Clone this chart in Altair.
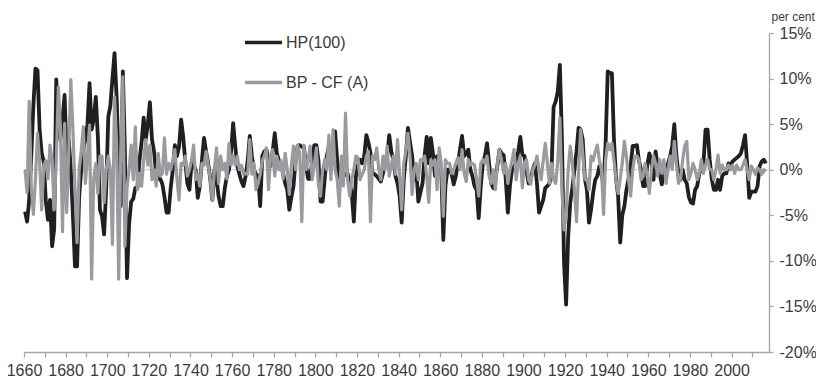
import altair as alt
import pandas as pd

# ---------------- data (per cent) ----------------
years = list(range(1660, 2017))

hp_values = [
    -4.6, -5.7, -3.3, 1.5, 7.0, 11.1, 10.9, 4.4, 1.8, 0.9,        # 1660s
    -3.5, -5.5, -3.3, -8.4, -6.5, 9.9, 5.0, 3.3, 5.5, 8.2,        # 1670s
    1.5, 3.3, 0.0, -5.0, -10.6, -10.6, -3.0, 0.0, 2.2, 3.3,       # 1680s
    5.0, 9.5, 4.4, 5.5, 8.0, 3.6, -4.4, -5.1, -7.1, -2.0,         # 1690s
    5.8, 7.0, 10.0, 12.8, 8.0, 1.0, -4.0, 10.8, 2.0, -11.9,       # 1700s
    -6.0, -3.5, -3.2, -2.0, -2.0, 1.0, 3.0, 5.7, 3.3, 5.0,        # 1710s
    7.4, 3.3, 2.0, -0.4, -1.0, -1.0, -1.6, -3.0, -4.7, -4.7,      # 1720s
    -2.0, 0.0, 2.7, 1.5, 2.5, 5.5, 3.6, 0.9, -1.5, -2.2,          # 1730s
    0.7, 0.5, 0.0, -3.1, -1.8, 1.0, 3.5, 2.0, 0.7, -1.0,          # 1740s
    -3.3, 0.0, -1.0, -2.9, -4.0, -4.0, -2.0, -0.7, 0.0, 2.0,      # 1750s
    5.1, 2.6, 0.4, -0.5, -1.3, -1.8, -0.7, 1.0, 3.7, 1.5,         # 1760s
    0.0, -0.5, -0.7, -4.0, 1.5, 2.0, 2.2, 1.0, 0.4, 2.0,          # 1770s
    4.0, 1.8, 1.0, 0.7, -0.4, -1.5, -2.2, -4.4, -3.0, -1.8,       # 1780s
    1.0, 2.6, 2.7, 2.5, 2.5, 0.5, -1.0, -1.0, 1.0, 2.7,           # 1790s
    2.7, 1.0, -3.5, -3.5, -1.0, 1.5, 2.5, 0.7, 2.5, 4.2,          # 1800s
    1.0, -1.1, 0.5, -0.7, -0.5, -0.4, -1.5, -2.6, -5.7, -0.7,     # 1810s
    0.5, 1.1, 0.7, 1.5, 3.8, 3.0, 1.8, -0.4, -0.5, -0.7,          # 1820s
    -1.0, -1.3, -0.4, 0.5, 1.5, 3.8, 2.0, 1.1, -0.7, -1.5,        # 1830s
    -2.9, -5.8, -1.0, 1.5, 4.6, 3.0, 1.5, -1.1, 0.0, -3.5,        # 1840s
    -2.5, -1.5, 1.5, 3.6, 0.7, 3.5, 1.8, -0.7, 1.5, 0.5,          # 1850s
    0.0, -7.7, -1.8, 0.0, 0.0, -0.5, -1.6, -0.7, 0.7, 2.2,        # 1860s
    3.7, 1.5, 1.8, 2.2, 0.0, -0.7, -1.8, -2.2, -5.3, -1.8,        # 1870s
    0.7, 1.5, 2.9, 0.7, -1.5, -2.0, -1.0, 0.5, 2.2, 1.8,          # 1880s
    1.6, -1.0, -4.7, -1.8, 0.0, 0.4, 0.7, 2.0, 3.6, 1.6,          # 1890s
    1.5, -0.2, -1.5, -1.0, 0.0, 0.7, -1.5, -4.7, -4.0, -3.3,      # 1900s
    -2.0, -1.8, -1.5, 0.0, 6.9, 7.5, 8.6, 11.5, 3.3, -10.2,       # 1910s
    -14.8, -7.3, -3.6, -2.0, 0.0, 2.0, 4.6, 4.4, 3.3, -1.0,       # 1920s
    -2.2, -5.8, -4.4, -2.5, -1.1, -0.7, 0.4, -0.5, -1.5, 2.9,     # 1930s
    10.8, 10.6, 10.6, 3.3, -1.0, -2.9, -8.0, -5.0, -4.0, -2.2,    # 1940s
    -1.0, 0.4, 2.6, 2.6, 2.7, 1.0, 0.0, -1.8, -1.8, 0.5,          # 1950s
    1.8, 0.9, -1.1, 2.0, 0.4, -0.5, -1.6, -0.4, 0.0, 0.7,         # 1960s
    1.5, 2.6, 5.0, 1.5, -0.5, -1.1, 0.0, -1.1, -1.5, -3.0,        # 1970s
    -3.6, -3.7, -2.2, -1.8, -0.4, 0.0, 0.7, 4.4, 4.4, 1.1,        # 1980s
    -1.0, -2.2, -2.2, -1.1, -2.2, -0.7, -0.4, -0.4, 0.7, 0.5,     # 1990s
    0.9, 1.1, 1.3, 1.5, 1.8, 2.7, 3.8, 0.7, -3.1, -2.4,           # 2000s
    -2.4, -2.4, -1.8, 0.4, 0.9, 1.1, 0.7,                         # 2010s
]

bp_values = [
    0.0, -2.5, 7.5, -2.0, -4.9, -1.0, 4.0, 1.0, -4.4, 0.5,        # 1660s
    1.0, -1.0, 2.7, 1.0, -4.4, 1.0, 9.1, 4.7, -6.8, 5.1,          # 1670s
    -4.7, 2.0, 9.9, 4.4, -2.0, -8.0, 0.0, 2.0, 4.7, -1.5,         # 1680s
    1.5, 4.9, -12.0, -1.0, 0.7, -2.6, 1.5, 1.5, -3.6, 0.0,        # 1690s
    1.5, 0.0, -8.2, 8.0, 3.0, -12.0, 2.0, 10.2, -8.4, -2.0,       # 1700s
    0.0, 2.7, -1.1, 4.7, -2.2, -0.4, -1.8, 1.0, 3.3, 0.5,         # 1710s
    2.7, -1.1, 0.0, -1.8, 1.8, -0.7, -0.4, 3.5, -0.5, 0.7,        # 1720s
    0.0, 1.0, 2.2, -1.0, -3.3, 0.7, 0.5, 1.5, -0.7, 0.0,          # 1730s
    1.0, 2.7, -1.1, -0.5, -1.8, 0.7, 0.5, 2.0, 0.5, -1.0,         # 1740s
    -3.3, 0.0, 2.4, -1.5, 1.5, 0.0, 0.7, -1.0, 2.9, 0.5,          # 1750s
    1.5, 0.5, 1.5, 0.0, 0.5, -0.5, -0.4, -0.5, 3.3, -0.5,         # 1760s
    0.7, -2.2, -1.5, -0.5, 1.0, 1.5, 2.4, -2.2, 1.5, 2.2,         # 1770s
    -0.7, 1.5, 0.0, 1.0, -1.0, 1.8, 0.0, -2.7, 0.5, 2.6,          # 1780s
    0.0, 2.7, 1.8, -5.7, 2.7, 0.0, 1.0, 2.6, -1.1, 0.5,           # 1790s
    2.4, -1.8, -2.9, 0.0, 1.1, 0.0, 3.8, -1.1, 4.4, 0.0,          # 1800s
    -1.1, -4.0, 1.5, -1.8, 6.2, -1.1, -2.9, -1.0, 0.0, 1.5,       # 1810s
    1.3, -1.1, -0.5, 0.0, 1.5, 2.0, -5.7, 1.5, 1.1, 2.4,          # 1820s
    0.0, -1.1, 1.5, 0.0, 2.6, -0.7, 0.5, 1.5, -0.5, 3.3,          # 1830s
    -0.7, -4.4, 0.7, 2.0, 4.0, 1.5, -2.7, 0.0, 0.7, -1.1,         # 1840s
    1.1, 1.0, 1.5, -0.7, -3.6, 1.1, 0.5, 1.1, -2.2, 2.4,          # 1850s
    0.7, -5.1, 1.1, 0.7, 0.7, -0.4, 0.0, 0.7, 1.3, 0.0,           # 1860s
    2.2, -0.4, -1.3, 1.1, 0.5, 0.7, 0.5, -1.1, -2.9, 0.7,         # 1870s
    1.1, 0.7, 1.5, -0.7, -1.5, 0.0, -2.2, 0.7, 2.2, 1.0,          # 1880s
    -0.4, 0.7, -1.5, 0.0, 1.0, 2.2, -1.1, 0.7, 1.5, -2.0,         # 1890s
    0.7, 1.1, -1.1, -1.6, 0.0, 0.5, 1.5, 0.0, -1.1, 1.0,          # 1900s
    2.9, 0.7, -1.5, 0.7, -1.1, -1.5, 1.0, 5.7, -2.2, -6.6,        # 1910s
    -5.1, 0.0, 2.6, 0.7, -2.2, -5.7, 0.0, 4.4, 1.8, -1.1,         # 1920s
    -1.0, -2.2, 1.5, 1.0, 2.0, 2.7, 1.0, 0.0, -4.9, 1.1,          # 1930s
    2.9, 2.2, 2.9, 1.0, -1.1, -2.6, -1.0, 0.7, 3.1, 1.5,          # 1940s
    -1.1, -2.9, 0.0, 1.5, 1.5, 1.1, -1.1, -0.7, 0.7, -0.7,        # 1950s
    -2.6, 0.0, 1.5, 0.7, -0.7, 1.1, -0.4, 1.1, -1.5, 0.0,         # 1960s
    1.5, 0.0, 3.1, 0.7, -1.5, -1.0, 1.0, 2.6, 3.1, -1.1,          # 1970s
    -0.4, 0.7, 0.0, -1.1, -0.4, 1.1, -0.4, 0.5, 1.1, 0.0,         # 1980s
    0.0, -1.1, 0.0, 1.6, -0.4, 0.5, 0.0, 0.0, 0.5, 0.0,           # 1990s
    0.5, -0.4, 0.5, 0.0, 0.0, 0.5, 1.1, 0.0, -1.1, 0.4,           # 2000s
    0.0, -0.5, 0.2, 0.0, -0.5, 0.0, -0.2,                         # 2010s
]

series_names = ["HP(100)", "BP - CF (A)"]
series_colors = ["#231f20", "#9a9b9e"]
series_widths = [3.8, 3.2]
y_tick_values = [-20, -15, -10, -5, 0, 5, 10, 15]
x_tick_values = [1659.5 + 10 * i for i in range(36)]

assert len(hp_values) == len(years) and len(bp_values) == len(years)

# ---------------- tables ----------------
hp_df = pd.DataFrame({"year": years, "value": hp_values, "series": series_names[0]})
bp_df = pd.DataFrame({"year": years, "value": bp_values, "series": series_names[1]})
zero_df = pd.DataFrame({"value": [0]})

# ---------------- layout ----------------
W, H = 745, 319
FONT = "Liberation Sans"
TEXT = "#3b3b3b"
AXIS = "#a6a6a6"

x_scale = alt.Scale(domain=[1659.5, 2017.5], nice=False, zero=False)
y_scale = alt.Scale(domain=[-20, 15], nice=False, zero=False)
color_scale = alt.Scale(domain=series_names, range=series_colors)

x_axis = alt.Axis(
    values=x_tick_values,
    labelExpr="(round(datum.value + 0.5) % 20 == 0) ? ('' + round(datum.value + 0.5)) : ''",
    grid=False, domainColor=AXIS, domainWidth=1.3, tickColor=AXIS, tickWidth=1.3,
    tickSize=5, labelPadding=5, labelFont=FONT, labelFontSize=16, labelColor=TEXT,
    labelOverlap=False, labelFlush=False, title=None,
)
y_axis = alt.Axis(
    orient="right", values=y_tick_values, labelExpr="datum.value + '%'",
    grid=False, ticks=True, tickSize=4, tickColor=AXIS, tickWidth=1.3,
    domainColor=AXIS, domainWidth=1.3,
    labelPadding=6, labelAlign="left", labelBaseline="middle",
    labelFont=FONT, labelFontSize=16, labelColor=TEXT,
    title="per cent", titleAngle=0, titleAlign="left", titleBaseline="alphabetic",
    titleX=2, titleY=-13, titleFont=FONT, titleFontSize=12, titleFontWeight="normal",
    titleColor=TEXT,
)

legend = alt.Legend(
    title=None, orient="none", legendX=219, legendY=-11, padding=0,
    symbolType="stroke", symbolSize=1369, symbolStrokeWidth=3.5,
    labelFont=FONT, labelFontSize=16, labelColor=TEXT, labelOffset=2,
    rowPadding=11, direction="vertical",
)
color_enc = alt.Color("series:N", scale=color_scale, legend=legend)

zero_line = alt.Chart(zero_df).mark_rule(color="#c9c9c9", strokeWidth=1).encode(
    y=alt.Y("value:Q", scale=y_scale, axis=y_axis),
)

hp_line = alt.Chart(hp_df).mark_line(strokeWidth=series_widths[0], strokeJoin="round").encode(
    x=alt.X("year:Q", scale=x_scale, axis=x_axis),
    y=alt.Y("value:Q", scale=y_scale, axis=y_axis),
    color=color_enc,
)

bp_line = alt.Chart(bp_df).mark_line(strokeWidth=series_widths[1], strokeJoin="round").encode(
    x=alt.X("year:Q", scale=x_scale, axis=x_axis),
    y=alt.Y("value:Q", scale=y_scale, axis=y_axis),
    color=color_enc,
)

chart = alt.layer(zero_line, hp_line, bp_line).properties(
    width=W, height=H,
    autosize=alt.AutoSizeParams(type="none"),
    padding={"left": 16, "top": 25, "right": 47, "bottom": 25},
    background="white",
).configure_view(stroke=None)

chart.save("out.html", embed_options={"renderer": "svg", "actions": False})
